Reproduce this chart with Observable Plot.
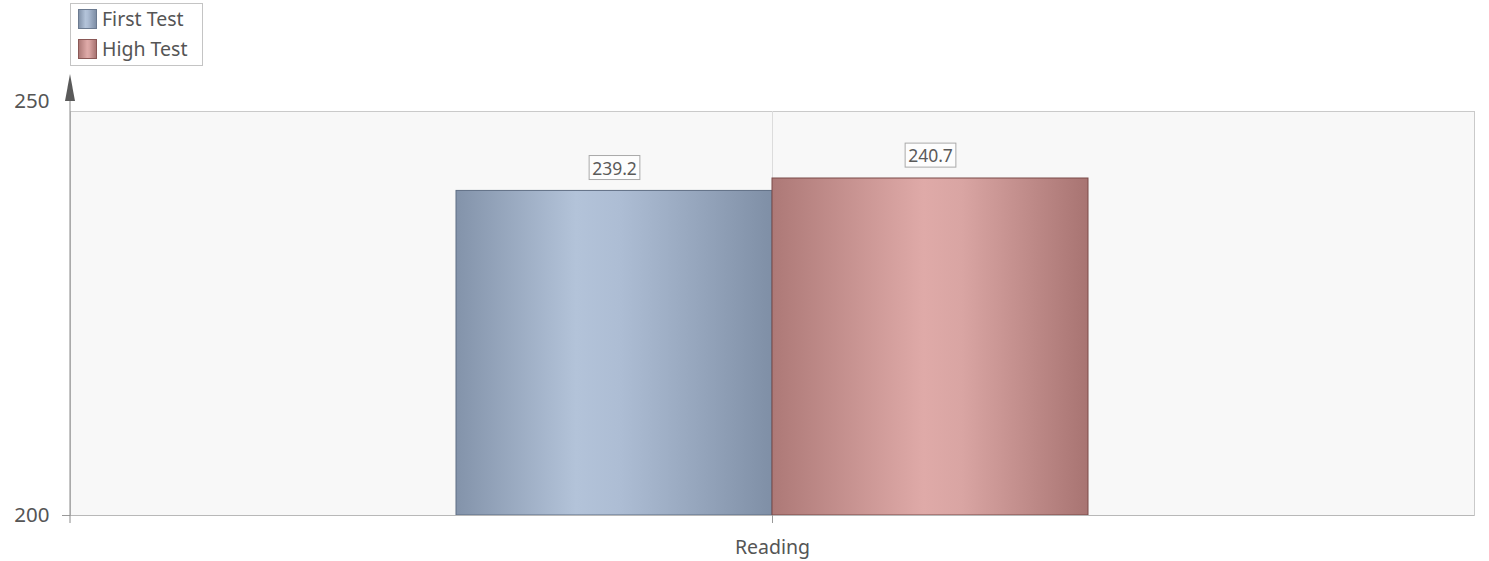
<!DOCTYPE html>
<html>
<head>
<meta charset="utf-8">
<script src="https://cdn.jsdelivr.net/npm/d3@7"></script>
<script src="https://cdn.jsdelivr.net/npm/@observablehq/plot@0.6"></script>
<style>
  html, body { margin: 0; padding: 0; background: #ffffff; }
  #wrap { position: relative; width: 1489px; height: 561px; font-family: "Segoe UI", "Noto Sans", "Open Sans", sans-serif; }
  #legend { position: absolute; left: 70px; top: 3px; width: 133px; height: 63px; border: 1px solid #c4c4c4; background: #fff; box-sizing: border-box; z-index: 2; }
  .item { position: absolute; left: 7px; display: flex; align-items: center; font-size: 19.5px; color: #555; line-height: 22px; }
  .sw { width: 19px; height: 20px; box-sizing: border-box; margin-right: 5px; }
</style>
</head>
<body>
<div id="wrap"><div id="legend"></div><div id="chart"></div></div>
<script>
const categories = ["Reading"];
const series = ["First Test", "High Test"];
const values = [239.2, 240.7];
const yTicks = [200, 250];

const gradIds = ["gBlue", "gRed"];
const gradStops = [
  [["0%", "#8393aa"], ["38%", "#b3c3d9"], ["52%", "#adbdd4"], ["100%", "#7f8fa6"]],
  [["0%", "#ad7977"], ["48%", "#dfaaa8"], ["60%", "#d9a5a3"], ["100%", "#a87472"]]
];
const strokeCols = ["#5f6e84", "#7a4a48"];
const swatchBorders = ["#6b7a90", "#8a5856"];

const data = series.map((s, i) => ({category: categories[0], series: s, value: values[i], grad: `url(#${gradIds[i]})`, stroke: strokeCols[i]}));

const font = '"Segoe UI", "Noto Sans", "Open Sans", sans-serif';

const chart = Plot.plot({
  width: 1489,
  height: 561,
  marginLeft: 70,
  marginRight: 15,
  marginTop: 101,
  marginBottom: 46,
  style: {fontFamily: font, background: "transparent", overflow: "visible"},
  fx: {domain: categories, padding: 0, label: null},
  x: {domain: series, paddingInner: 0, paddingOuter: 1.2215, axis: null},
  y: {domain: [yTicks[0], yTicks[yTicks.length - 1]], axis: null},
  color: {type: "identity"},
  marks: [
    Plot.frame({fill: "#f8f8f8", stroke: "#cacaca", insetTop: 10}),
    Plot.gridFx({stroke: "#dcdcdc", strokeOpacity: 1, insetTop: 10}),
    Plot.barY(data, {fx: "category", x: "series", y1: () => yTicks[0], y2: "value", fill: "grad", stroke: "stroke", strokeWidth: 1}),
    Plot.text(data, {fx: "category", x: "series", y: "value", text: d => d.value.toFixed(1), dy: -22, fontSize: 17.5, fill: "#5a5a5a", className: "vlabel"}),
    Plot.ruleY([yTicks[0]], {stroke: "#b8b8b8"}),
    Plot.axisFx({anchor: "bottom", tickSize: 8, tickPadding: 17, fontSize: 19.5, fill: "#555", stroke: "#999", label: null}),
    Plot.axisY([yTicks[0]], {anchor: "left", tickSize: 8, tickPadding: 13, fontSize: 20.5, fill: "#555", stroke: "#999", label: null}),
    Plot.axisY([yTicks[1]], {anchor: "left", tickSize: 0, tickPadding: 21, fontSize: 20.5, fill: "#555", label: null})
  ]
});

document.getElementById("chart").appendChild(chart);

// gradients
const svg = d3.select(chart);
const defs = svg.insert("defs", ":first-child");
gradIds.forEach((id, i) => {
  const g = defs.append("linearGradient").attr("id", id).attr("x1", "0%").attr("x2", "100%").attr("y1", "0%").attr("y2", "0%");
  gradStops[i].forEach(([o, c]) => g.append("stop").attr("offset", o).attr("stop-color", c));
});

// left axis line with arrow
const ys = chart.scale("y");
const yTop = ys.apply(yTicks[1]);
const yBot = ys.apply(yTicks[0]);
const xL = 70;
svg.append("line").attr("x1", xL).attr("x2", xL).attr("y1", yTop).attr("y2", yBot + 8).attr("stroke", "#8a8a8a");
svg.append("path").attr("d", `M${xL - 5},${yTop} L${xL},${yTop - 27} L${xL + 5},${yTop} Z`).attr("fill", "#5a5a5a");

// boxes around value labels
svg.selectAll("g.vlabel text").each(function() {
  const bb = this.getBBox();
  const parent = this.parentNode;
  const r = document.createElementNS("http://www.w3.org/2000/svg", "rect");
  r.setAttribute("x", bb.x - 3);
  r.setAttribute("y", bb.y);
  r.setAttribute("width", bb.width + 6);
  r.setAttribute("height", bb.height);
  r.setAttribute("fill", "#fdfdfd");
  r.setAttribute("stroke", "#aaaaaa");
  const t = this.getAttribute("transform");
  if (t) r.setAttribute("transform", t);
  parent.insertBefore(r, this);
});

// legend
const legend = document.getElementById("legend");
series.forEach((s, i) => {
  const it = document.createElement("div");
  it.className = "item";
  it.style.top = (4 + i * 30) + "px";
  const sw = document.createElement("div");
  sw.className = "sw";
  const st = gradStops[i].map(([o, c]) => `${c} ${o}`).join(", ");
  sw.style.background = `linear-gradient(to right, ${st})`;
  sw.style.border = `1px solid ${swatchBorders[i]}`;
  const tx = document.createElement("span");
  tx.textContent = s;
  it.appendChild(sw);
  it.appendChild(tx);
  legend.appendChild(it);
});
</script>
</body>
</html>
